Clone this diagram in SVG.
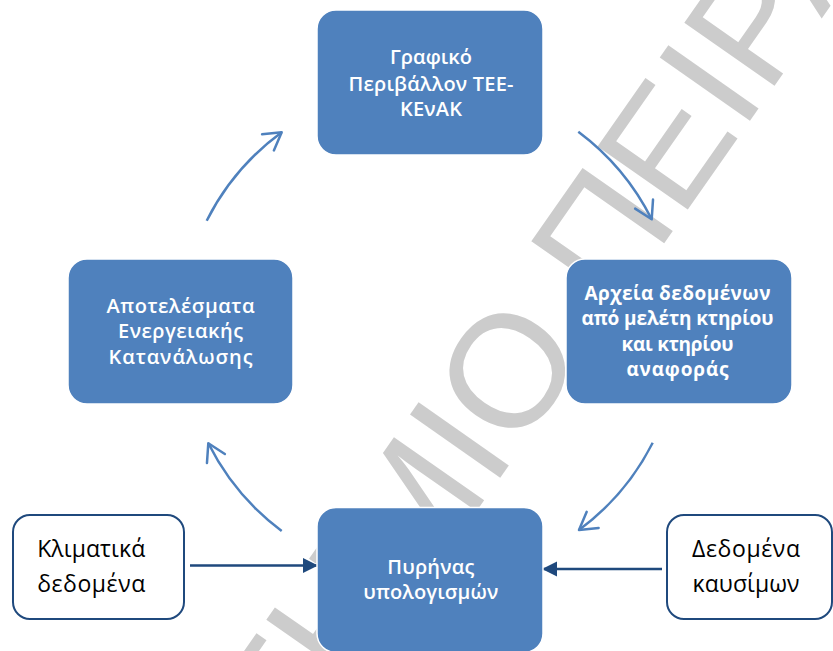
<svg xmlns="http://www.w3.org/2000/svg" width="833" height="651" viewBox="0 0 833 651">
<defs>
<style>
.node rect{fill:#4F81BD;stroke:#ffffff;stroke-width:1.5}
.node text{fill:#ffffff;font-family:"Open Sans","Liberation Sans",sans-serif;font-size:20px;font-weight:600;text-anchor:middle}
.node.bold text{font-weight:bold;font-size:19px}
.input rect{fill:#ffffff;stroke:#1F497D;stroke-width:2}
.input text{fill:#000000;font-family:"Open Sans","Liberation Sans",sans-serif;font-size:23px;text-anchor:middle}
.cyc{fill:none;stroke:#4F81BD;stroke-width:2.5;marker-end:url(#open)}
.feed{fill:none;stroke:#1F497D;stroke-width:2.5;marker-end:url(#solid)}
.wm{fill:#cccccc;font-family:"Liberation Sans",Arial,sans-serif;font-size:160px}
</style>
<marker id="open" viewBox="-20 -12 22 24" refX="0" refY="0" markerWidth="22" markerHeight="24" markerUnits="userSpaceOnUse" orient="auto">
<path d="M-17,-10 L0,0 L-17,10" fill="none" stroke="#4F81BD" stroke-width="2.5" stroke-linecap="round" stroke-linejoin="round"/>
</marker>
<marker id="solid" viewBox="-16 -8 16 16" refX="0" refY="0" markerWidth="16" markerHeight="16" markerUnits="userSpaceOnUse" orient="auto">
<path d="M0,0 L-15,-7.5 L-15,7.5 Z" fill="#1F497D"/>
</marker>
</defs>
<rect x="0" y="0" width="833" height="651" fill="#ffffff"/>
<g id="watermark">
<text class="wm" transform="translate(553,402) rotate(-55)" x="-1157" y="0">ΠΑΝΕΠΙΣΤΗΜΙΟ ΠΕΙΡΑΙΑ</text>
</g>
<g id="connectors">
<path class="cyc" d="M206.7,220.7 A248,248 0 0 1 281.7,132.3"/>
<path class="cyc" d="M578.3,131.7 A248,248 0 0 1 651.7,219.3"/>
<path class="cyc" d="M652.7,442.7 A248,248 0 0 1 579,530"/>
<path class="cyc" d="M281.7,531 A248,248 0 0 1 208.3,443.3"/>
<path class="feed" d="M190,565.5 L318,565.5"/>
<path class="feed" d="M662,569 L542,569"/>
</g>
<g id="node-graphic" class="node">
<rect x="317" y="10" width="226" height="145" rx="19"/>
<text x="431" y="64" textLength="82" lengthAdjust="spacing">Γραφικό</text>
<text x="431" y="90.5" textLength="165" lengthAdjust="spacing">Περιβάλλον ΤΕΕ-</text>
<text x="431" y="116" textLength="62" lengthAdjust="spacing">ΚΕνΑΚ</text>
</g>
<g id="node-files" class="node bold">
<rect x="566" y="259" width="226" height="145" rx="19"/>
<text x="677.5" y="299.5" textLength="186" lengthAdjust="spacing">Αρχεία δεδομένων</text>
<text x="677.5" y="325" textLength="192" lengthAdjust="spacing">από μελέτη κτηρίου</text>
<text x="677.5" y="350.5" textLength="112" lengthAdjust="spacing">και κτηρίου</text>
<text x="677.5" y="375.5" textLength="102" lengthAdjust="spacing">αναφοράς</text>
</g>
<g id="node-results" class="node">
<rect x="68" y="259" width="225" height="145" rx="19"/>
<text x="180.5" y="312.7" textLength="148" lengthAdjust="spacing">Αποτελέσματα</text>
<text x="180.5" y="338" textLength="125" lengthAdjust="spacing">Ενεργειακής</text>
<text x="180.5" y="363.5" textLength="144" lengthAdjust="spacing">Κατανάλωσης</text>
</g>
<g id="node-core" class="node">
<rect x="317" y="507.5" width="226" height="145" rx="19"/>
<text x="430.8" y="574" textLength="87" lengthAdjust="spacing">Πυρήνας</text>
<text x="430.8" y="599" textLength="135" lengthAdjust="spacing">υπολογισμών</text>
</g>
<g id="node-climate" class="input">
<rect x="13" y="515" width="171" height="104" rx="17"/>
<text x="91.2" y="557" textLength="108" lengthAdjust="spacing">Κλιματικά</text>
<text x="91.2" y="592" textLength="108" lengthAdjust="spacing">δεδομένα</text>
</g>
<g id="node-fuel" class="input">
<rect x="667" y="515" width="165" height="104" rx="17"/>
<text x="746" y="557" textLength="108" lengthAdjust="spacing">Δεδομένα</text>
<text x="746" y="592" textLength="107" lengthAdjust="spacing">καυσίμων</text>
</g>
</svg>
